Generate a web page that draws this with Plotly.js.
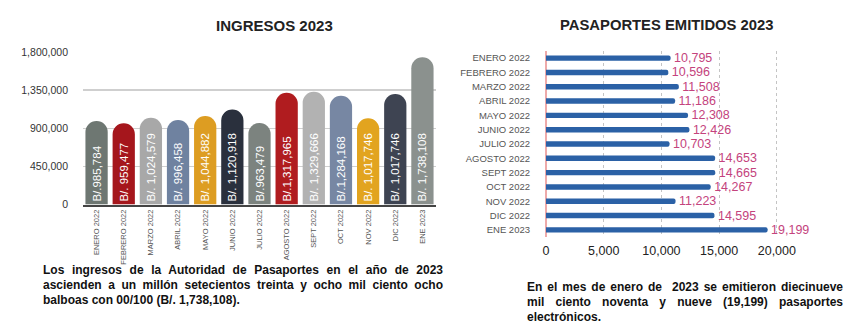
<!DOCTYPE html>
<html>
<head>
<meta charset="utf-8">
<script src="https://cdn.plot.ly/plotly-3.0.1.min.js"></script>
<style>
  html, body { margin:0; padding:0; background:#fff; }
  #wrap { position:relative; width:855px; height:326px; overflow:hidden; }
  #chart { position:absolute; left:0; top:0; width:855px; height:326px; }
  .cap { position:absolute; font-family:"Liberation Sans", Arial, sans-serif; font-weight:bold; font-size:12px; color:#111; line-height:15px; }
  .cap div { white-space:nowrap; }
  .cap .j { text-align:justify; text-align-last:justify; white-space:normal; }
</style>
</head>
<body>
<div id="wrap">
  <div id="chart"></div>
  <div class="cap" style="left:43px; top:263px; width:400px;">
    <div class="j">Los ingresos de la Autoridad de Pasaportes en el año de 2023</div>
    <div class="j">ascienden a un millón setecientos treinta y ocho mil ciento ocho</div>
    <div>balboas con 00/100 (B/. 1,738,108).</div>
  </div>
  <div class="cap" style="left:527px; top:280px; width:316px;">
    <div class="j">En el mes de enero de&nbsp; 2023 se emitieron diecinueve</div>
    <div class="j">mil ciento noventa y nueve (19,199) pasaportes</div>
    <div>electrónicos.</div>
  </div>
</div>
<script>
// ---- Data ----
const months = ["ENERO 2022","FEBRERO 2022","MARZO 2022","ABRIL 2022","MAYO 2022","JUNIO 2022","JULIO 2022","AGOSTO 2022","SEPT 2022","OCT 2022","NOV 2022","DIC 2022","ENE 2023"];
// Income bar heights (B/.)
const ingresos = [985784, 959477, 1024579, 996458, 1044882, 1120918, 963479, 1317965, 1329666, 1284168, 1017746, 1305000, 1738108];
// Labels printed inside the bars
const ingresosLabels = ["B/.985,784","B/. 959,477","B/. 1,024,579","B/. 996,458","B/. 1,044,882","B/. 1,120,918","B/.963,479","B/.1,317,965","B/. 1,329,666","B/.1,284,168","B/. 1,017,746","B/. 1,017,746","B/. 1,738,108"];
const ingresosColors = ["#6e7772","#a5161c","#a8a8a8","#6f82a0","#dd9d22","#2a303d","#7c837f","#b01c1f","#b2b2b2","#7787a3","#e2a41f","#3e4452","#8b918e"];
const ingresosTicks = [0, 450000, 900000, 1350000, 1800000];
// Passports issued
const pasaportes = [10795, 10596, 11508, 11186, 12308, 12426, 10703, 14653, 14665, 14267, 11223, 14595, 19199];
const pasaportesTicks = [0, 5000, 10000, 15000, 20000];

const FONT = '"Liberation Sans", Arial, sans-serif';
const H = 326, W = 855;
const py = v => 1 - v / H;
const px = v => v / W;

const traces = [
  {
    type: 'bar', x: months, y: ingresos, xaxis: 'x', yaxis: 'y',
    marker: { color: ingresosColors, cornerradius: 11, line: { width: 0 } },
    text: ingresosLabels, textposition: 'inside', textangle: -90,
    insidetextanchor: 'start', constraintext: 'none',
    textfont: { family: FONT, size: 11.5, color: '#ffffff' },
    hoverinfo: 'x+y'
  },
  {
    type: 'bar', orientation: 'h', x: pasaportes, y: months, xaxis: 'x2', yaxis: 'y2',
    width: 0.38,
    marker: { color: '#2b61a6', cornerradius: 2.5, line: { width: 0 } },
    texttemplate: '\u00a0%{x:,}', textposition: 'outside', cliponaxis: false,
    constraintext: 'none',
    textfont: { family: FONT, size: 12.5, color: '#c4437d' },
    hoverinfo: 'x+y'
  }
];

const layout = {
  width: W, height: H,
  margin: { l: 0, r: 0, t: 0, b: 0 },
  paper_bgcolor: '#ffffff', plot_bgcolor: 'rgba(0,0,0,0)',
  showlegend: false,
  bargap: 0.18,
  font: { family: FONT, color: '#333' },
  xaxis: {
    domain: [px(83), px(436)], anchor: 'y',
    type: 'category', tickangle: -90,
    tickfont: { family: FONT, size: 7.5, color: '#555' },
    showgrid: false, zeroline: false,
    showline: true, linecolor: '#444', linewidth: 2,
    ticks: '', fixedrange: true
  },
  yaxis: {
    domain: [py(204.6), py(52)], anchor: 'x',
    range: [0, 1800000], tickvals: ingresosTicks, tickformat: ',d',
    tickfont: { family: FONT, size: 10.5, color: '#333' },
    showgrid: true, gridcolor: '#cfcfcf', gridwidth: 1.5,
    zeroline: false, showline: false, ticks: '', ticklabelstandoff: 14
  },
  xaxis2: {
    domain: [px(546), px(778)], anchor: 'y2',
    range: [0, 20100], tickvals: pasaportesTicks, tickformat: ',d',
    tickfont: { family: FONT, size: 12.5, color: '#222' },
    showgrid: true, gridcolor: '#c4c4c4', griddash: 'dot', gridwidth: 1,
    zeroline: true, zerolinecolor: '#eeaaaa', zerolinewidth: 1.5,
    showline: false, ticks: '', ticklabelstandoff: 4
  },
  yaxis2: {
    domain: [py(237), py(51)], anchor: 'x2',
    type: 'category', autorange: 'reversed',
    tickfont: { family: FONT, size: 9.5, color: '#555' },
    showgrid: false, zeroline: false, showline: false, ticks: '',
    ticklabelstandoff: 15
  },
  annotations: [
    { text: '<b>INGRESOS 2023</b>', xref: 'paper', yref: 'paper', x: px(274), y: py(25),
      xanchor: 'center', yanchor: 'middle', showarrow: false,
      font: { family: FONT, size: 15, color: '#222' } },
    { text: '<b>PASAPORTES EMITIDOS 2023</b>', xref: 'paper', yref: 'paper', x: px(667), y: py(25),
      xanchor: 'center', yanchor: 'middle', showarrow: false,
      font: { family: FONT, size: 14.8, color: '#222' } }
  ]
};

Plotly.newPlot('chart', traces, layout, { displayModeBar: false, staticPlot: true });
</script>
</body>
</html>
